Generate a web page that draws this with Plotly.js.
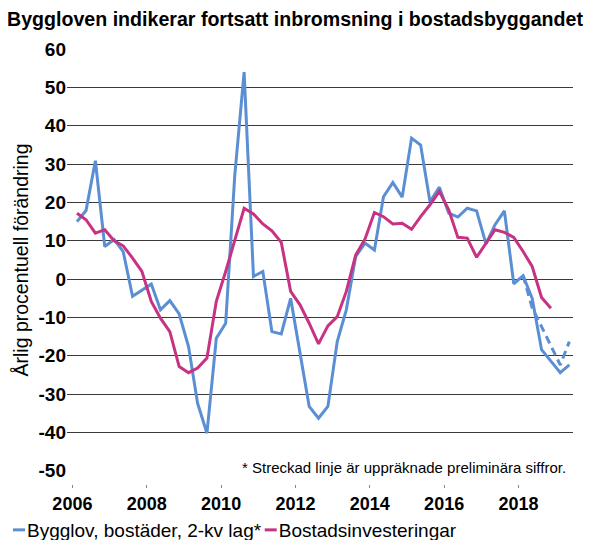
<!DOCTYPE html>
<html>
<head>
<meta charset="utf-8">
<script src="https://cdn.plot.ly/plotly-3.0.1.min.js"></script>
<style>
  html, body { margin: 0; padding: 0; background: #fff; }
  #chart { width: 589px; height: 540px; }
</style>
</head>
<body>
<div id="chart"></div>
<script>
// quarterly data, 2006K1 onwards
const firstYear = 2006;

const bygglov = [15.0, 17.9, 30.9, 8.5, 10.3, 7.2, -4.5, -2.8, -1.3, -8.0,
  -5.6, -9.1, -17.6, -32.4, -40.2, -15.4, -11.5, 27.0, 54.0, 0.7,
  2.0, -13.7, -14.3, -5.0, -19.0, -33.2, -36.3, -33.2, -16.3, -8.0,
  5.9, 9.4, 7.6, 21.5, 25.2, 21.4, 36.8, 35.0, 20.2, 24.0,
  17.2, 16.2, 18.5, 17.8, 9.2, 14.2, 17.8, -1.2, 0.9, -5.0,
  -18.4, -21.5, -24.4, -22.4];

// preliminary (upraised) figures, starting 2018K1
const bygglovPrelStart = 48;
const bygglovPrel = [0.9, -7.5, -12.4, -17.6, -22.4, -16.3];

const bostadsinv = [17.2, 15.5, 12.0, 12.9, 10.0, 8.7, 5.5, 2.0, -5.8, -10.2,
  -13.7, -22.8, -24.4, -23.2, -20.6, -5.8, 2.0, 10.0, 18.5, 17.0,
  14.4, 12.6, 9.6, -3.2, -6.7, -11.5, -16.9, -12.2, -9.8, -3.2,
  6.3, 10.5, 17.4, 16.3, 14.4, 14.6, 13.0, 16.3, 19.4, 22.9,
  18.1, 10.9, 10.7, 5.7, 9.4, 12.9, 12.2, 10.9, 7.2, 3.3,
  -4.8, -7.6];

const yearTicks = [2006, 2008, 2010, 2012, 2014, 2016, 2018];
const yTicks = [60, 50, 40, 30, 20, 10, 0, -10, -20, -30, -40, -50];

// mid-quarter date for quarter index i
function qDate(i) {
  const y = firstYear + Math.floor(i / 4);
  const m = [2, 5, 8, 11][i % 4];
  return y + '-' + String(m).padStart(2, '0') + '-15';
}
const dates = (n, off) => Array.from({length: n}, (_, k) => qDate(k + (off || 0)));

const blue = '#5a8fd3';
const magenta = '#c83282';
const font = 'Liberation Sans, Arial, sans-serif';

const traces = [
  {
    x: dates(bygglov.length),
    y: bygglov,
    type: 'scatter',
    mode: 'lines',
    name: 'Bygglov, bostäder, 2-kv lag*',
    line: { color: blue, width: 3 }
  },
  {
    x: dates(bostadsinv.length),
    y: bostadsinv,
    type: 'scatter',
    mode: 'lines',
    name: 'Bostadsinvesteringar',
    line: { color: magenta, width: 3 }
  },
  {
    x: dates(bygglovPrel.length, bygglovPrelStart),
    y: bygglovPrel,
    type: 'scatter',
    mode: 'lines',
    showlegend: false,
    line: { color: blue, width: 3, dash: '8px,5px' }
  }
];

const layout = {
  width: 589,
  height: 540,
  margin: { l: 67, r: 16, t: 49, b: 56 },
  paper_bgcolor: '#fff',
  plot_bgcolor: '#fff',
  font: { family: font, color: '#000' },
  title: {
    text: '<b>Byggloven indikerar fortsatt inbromsning i bostadsbyggandet</b>',
    font: { size: 19.6, family: font, color: '#000' },
    xref: 'container', x: 0.012, xanchor: 'left',
    yref: 'container', y: 0.965, yanchor: 'middle'
  },
  xaxis: {
    type: 'date',
    range: ['2005-11-09', '2019-06-20'],
    anchor: 'free',
    position: 0,
    tickvals: yearTicks.map(y => y + '-01-01'),
    ticktext: yearTicks.map(y => '<b>' + y + '</b>'),
    ticks: 'outside',
    ticklen: 3,
    tickcolor: '#888',
    tickfont: { size: 18 },
    showgrid: false,
    showline: false,
    zeroline: false
  },
  yaxis: {
    range: [-50.05, 60.05],
    domain: [0.03, 1],
    tickvals: yTicks,
    ticktext: yTicks.map(t => '<b>' + t + '</b>'),
    tickfont: { size: 19 },
    showgrid: true,
    gridcolor: '#3a3a3a',
    gridwidth: 1,
    zeroline: false,
    showline: false,
    ticks: '',
    title: {
      text: 'Årlig procentuell förändring',
      font: { size: 19.5 },
      standoff: 4
    },
    automargin: false
  },
  showlegend: true,
  legend: {
    orientation: 'h',
    xref: 'container', x: -0.024, xanchor: 'left',
    yref: 'container', y: 0.0185, yanchor: 'middle',
    font: { size: 19 },
    itemwidth: 30,
    tracegroupgap: 0,
    bgcolor: 'rgba(0,0,0,0)'
  },
  annotations: [
    {
      text: '* Streckad linje är uppräknade preliminära siffror.',
      xref: 'paper', yref: 'paper',
      x: 0.99, y: 0.038,
      xanchor: 'right', yanchor: 'middle',
      showarrow: false,
      font: { size: 15, color: '#000' }
    }
  ]
};

Plotly.newPlot('chart', traces, layout, { displayModeBar: false, staticPlot: true }).then(gd => {
  // short legend swatches right next to the text, entries packed tight as in the original
  gd.querySelectorAll('.legend .legendlines path').forEach(p => p.setAttribute('d', 'M26,0h12'));
  gd.querySelectorAll('.legend .traces').forEach((g, k) => {
    const m = /translate\(([-\d.]+),\s*([-\d.]+)\)/.exec(g.getAttribute('transform') || '');
    if (m) g.setAttribute('transform', 'translate(' + (parseFloat(m[1]) - 13 - 28 * k) + ',' + m[2] + ')');
  });
});
</script>
</body>
</html>
